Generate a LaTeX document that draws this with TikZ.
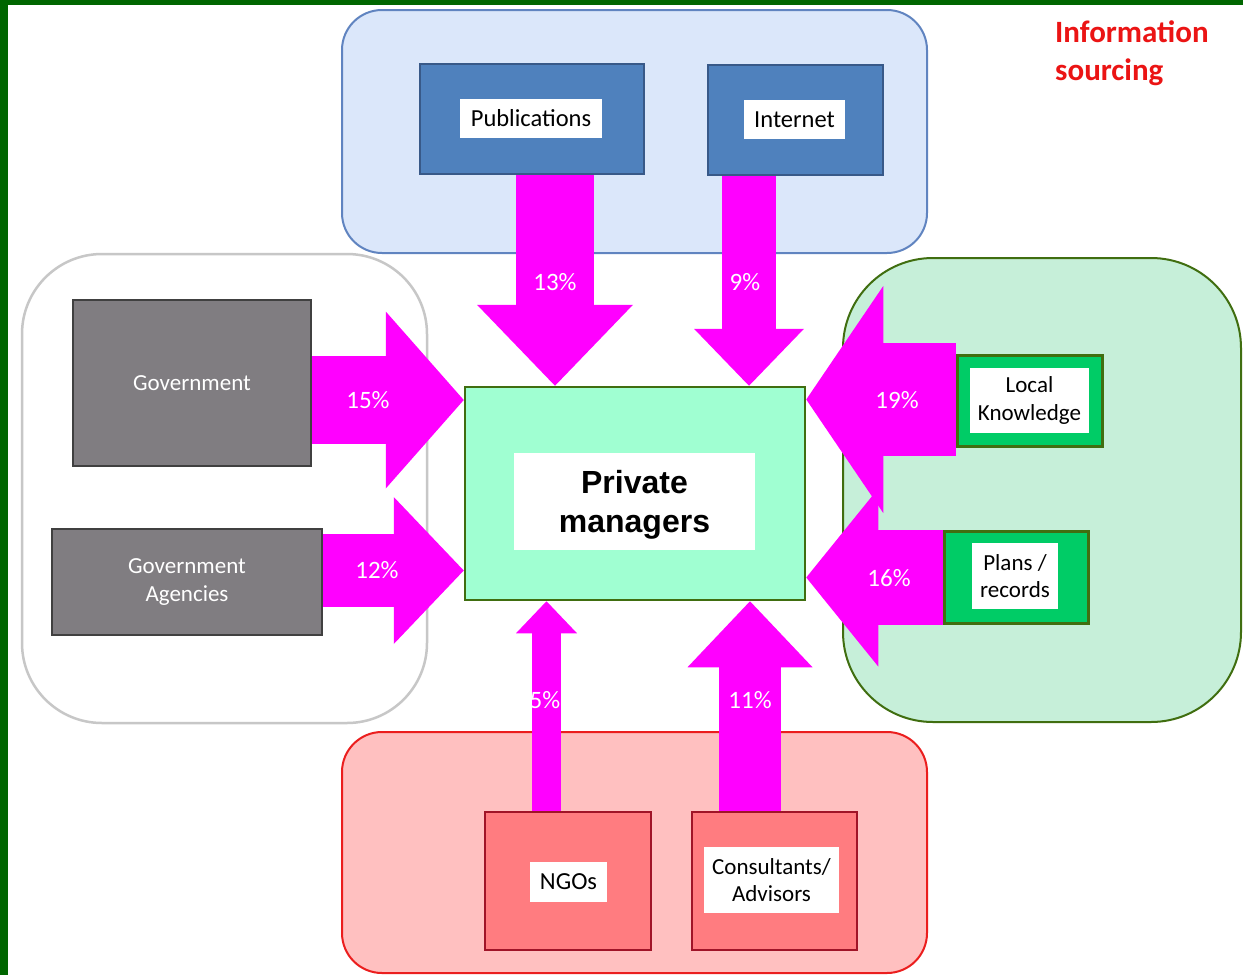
\documentclass[tikz,border=0pt]{standalone}
\usepackage{fontspec}
\setmainfont{Carlito}
\newfontfamily\arialfont{Liberation Sans}
\usetikzlibrary{arrows.meta}
\definecolor{framegreen}{RGB}{0,102,0}
\definecolor{flowpink}{RGB}{255,0,255}
\definecolor{pubfill}{RGB}{79,129,189}
\definecolor{publine}{RGB}{56,89,136}
\definecolor{pubgroup}{RGB}{219,231,250}
\definecolor{pubgroupline}{RGB}{96,132,192}
\definecolor{govfill}{RGB}{128,125,129}
\definecolor{localfill}{RGB}{0,204,102}
\definecolor{localgroup}{RGB}{198,239,217}
\definecolor{darkgreen}{RGB}{64,110,16}
\definecolor{mgrfill}{RGB}{160,255,210}
\definecolor{ngofill}{RGB}{255,124,128}
\definecolor{ngoline}{RGB}{160,20,40}
\definecolor{ngogroup}{RGB}{255,192,192}
\definecolor{ngogroupline}{RGB}{235,30,30}
\definecolor{titlered}{RGB}{235,20,20}

\begin{document}
\begin{tikzpicture}[x=1pt, y=-1pt, every node/.style={font=\fontsize{23}{27.5}\selectfont},
  lbl/.style={fill=white, inner sep=0pt, align=center},
  biglbl/.style={lbl, font=\fontsize{24.5}{29}\selectfont},
  pct/.style={text=white, font=\fontsize{25}{30}\selectfont},
  flow/.style={draw=flowpink, line width=#1}]
\useasboundingbox (0,0) rectangle (1243,975);
\fill[framegreen] (0,0) rectangle (1243,975);
\fill[white] (8,5) rectangle (1243,975);

% groups
\draw[pubgroupline, fill=pubgroup, line width=2pt, rounded corners=40pt] (342,10) rectangle (927,253);
\draw[black!22, fill=white, line width=2.5pt, rounded corners=80pt] (22,254) rectangle (427,723);
\draw[darkgreen, fill=localgroup, line width=2pt, rounded corners=90pt] (843,258) rectangle (1241,722);
\draw[ngogroupline, fill=ngogroup, line width=2pt, rounded corners=40pt] (342,732) rectangle (927,973);

% sources
\node[draw=publine, fill=pubfill, line width=2pt, minimum width=224pt, minimum height=110pt] (pub) at (532,119) {};
\node[biglbl, minimum width=142pt, minimum height=39pt] (publbl) at (531,118.5) {Publications};
\node[draw=publine, fill=pubfill, line width=2pt, minimum width=175pt, minimum height=110pt] (int) at (795.5,120) {};
\node[biglbl, minimum width=101pt, minimum height=39pt] (intlbl) at (794.5,119.5) {Internet};
\node[draw=black!75, fill=govfill, text=white, line width=1.5pt, minimum width=238pt, minimum height=166pt] (gov) at (192,383) {Government};
\node[draw=black!75, fill=govfill, text=white, line width=1.5pt, align=center, minimum width=270pt, minimum height=106pt] (gova) at (187,582) {Government\\Agencies};
\node[draw=darkgreen, fill=localfill, line width=3pt, minimum width=145pt, minimum height=91pt] (lk) at (1029.5,400.5) {};
\node[lbl, minimum width=119pt, minimum height=65pt] (lklbl) at (1029.5,400.5) {Local\\Knowledge};
\node[draw=darkgreen, fill=localfill, line width=3pt, minimum width=144pt, minimum height=92pt] (pr) at (1016,577) {};
\node[lbl, minimum width=86pt, minimum height=66pt] (prlbl) at (1015,576) {Plans /\\records};
\node[draw=ngoline, fill=ngofill, line width=2.5pt, minimum width=166pt, minimum height=138pt] (ngo) at (568,881) {};
\node[biglbl, minimum width=77pt, minimum height=40pt] (ngolbl) at (568.5,882) {NGOs};
\node[draw=ngoline, fill=ngofill, line width=2.5pt, minimum width=165pt, minimum height=138pt] (con) at (774.5,881) {};
\node[lbl, minimum width=135pt, minimum height=66pt] (conlbl) at (771.5,880) {Consultants/\\Advisors};

% private managers
\node[draw=darkgreen, fill=mgrfill, line width=2.5pt, minimum width=340pt, minimum height=213pt] (pm) at (635,493.5) {};
\node[lbl, minimum width=241pt, minimum height=97pt, font=\arialfont\bfseries\fontsize{32}{39}\selectfont] (pmlbl) at (634.5,501.5) {\parbox{200pt}{\vspace*{6pt}\centering Private\\managers}};

% flows
\draw[flow=78pt, -{Triangle[length=81pt,width=156pt,line width=0pt]}] (pub.south -| 555,0) -- (pm.north -| 555,0);
\draw[flow=54pt, -{Triangle[length=57pt,width=110pt,line width=0pt]}] (int.south -| 749,0) -- (pm.north -| 749,0);
\draw[flow=88pt, -{Triangle[length=78pt,width=177pt,line width=0pt]}] (gov.east |- 0,400) -- (pm.west |- 0,400);
\draw[flow=73pt, -{Triangle[length=70pt,width=147pt,line width=0pt]}] (gova.east |- 0,570.5) -- (pm.west |- 0,570.5);
\draw[flow=113pt, -{Triangle[length=77pt,width=227pt,line width=0pt]}] (lk.west |- 0,399.5) -- (pm.east |- 0,399.5);
\draw[flow=95pt, -{Triangle[length=72pt,width=178pt,line width=0pt]}] (pr.west |- 0,577.5) -- (pm.east |- 0,577.5);
\draw[flow=29pt, -{Triangle[length=32pt,width=61pt,line width=0pt]}] (ngo.north -| 546.5,0) -- (pm.south -| 546.5,0);
\draw[flow=62pt, -{Triangle[length=66pt,width=125pt,line width=0pt]}] (con.north -| 750,0) -- (pm.south -| 750,0);

\node[pct] (p13) at (555,282) {13\%};
\node[pct] (p9) at (745,282) {9\%};
\node[pct] (p15) at (368,400) {15\%};
\node[pct] (p12) at (377,570) {12\%};
\node[pct] (p19) at (897,400) {19\%};
\node[pct] (p16) at (889,578) {16\%};
\node[pct] (p5) at (545,700) {5\%};
\node[pct] (p11) at (750,700) {11\%};

\node[text=titlered, font=\bfseries\fontsize{31}{38}\selectfont, align=left, anchor=west, inner sep=0pt] (title) at (1055,53) {Information\\sourcing};
\end{tikzpicture}
\end{document}
